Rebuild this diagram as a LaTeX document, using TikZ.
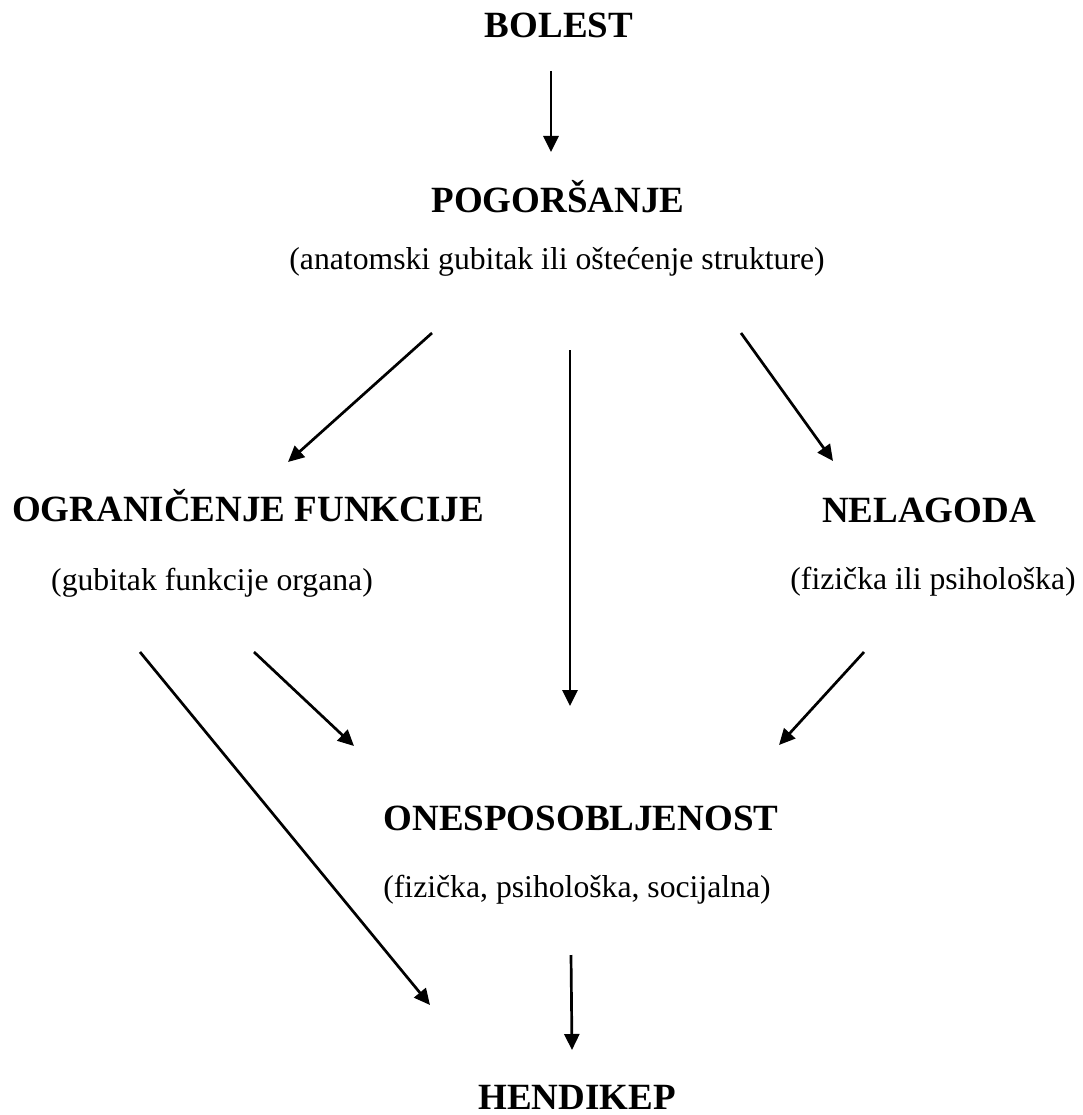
\documentclass[tikz,border=0pt]{standalone}
\usepackage{fontspec}
\setmainfont{Liberation Serif}
\usetikzlibrary{arrows.meta}
\begin{document}
\begin{tikzpicture}[x=1pt,y=-1pt,
  head/.style={font=\fontsize{37}{44}\selectfont\bfseries, inner sep=0pt, anchor=base},
  sub/.style={font=\fontsize{31.7}{38}\selectfont, inner sep=0pt, anchor=base},
  arr/.style={line width=2.7pt, -{Triangle[length=16pt,width=15pt]}}]
\useasboundingbox (0,0) rectangle (1082,1115);
% texts
\node[head] (bolest) at (559,38) {BOLEST};
\node[head] (pogor) at (558,213) {POGORŠANJE};
\node[sub]  (pogorsub) at (557,269) {(anatomski gubitak ili oštećenje strukture)};
\node[head] (ogr) at (248,521) {OGRANIČENJE FUNKCIJE};
\node[sub]  (ogrsub) at (212,590) {(gubitak funkcije organa)};
\node[head] (nel) at (929,522) {NELAGODA};
\node[sub]  (nelsub) at (933,589) {(fizička ili psihološka)};
\node[head] (ones) at (581,830) {ONESPOSOBLJENOST};
\node[sub]  (onessub) at (577,897) {(fizička, psihološka, socijalna)};
\node[head] (hend) at (577,1109) {HENDIKEP};
% arrow end points
\coordinate (b-s) at (551,71);   \coordinate (b-e) at (551,152);
\coordinate (pl-s) at (432,333); \coordinate (pl-e) at (288,462);
\coordinate (pm-s) at (570,350); \coordinate (pm-e) at (570,706);
\coordinate (pr-s) at (741,333); \coordinate (pr-e) at (833,461);
\coordinate (ol-s) at (140,652); \coordinate (ol-e) at (430,1005);
\coordinate (os-s) at (254,652); \coordinate (os-e) at (354,746);
\coordinate (nl-s) at (864,652); \coordinate (nl-e) at (779,745);
\coordinate (on-s) at (571,955); \coordinate (on-e) at (572,1050);
% connectors
\draw[arr] (b-s) -- (b-e);
\draw[arr] (pl-s) -- (pl-e);
\draw[arr] (pm-s) -- (pm-e);
\draw[arr] (pr-s) -- (pr-e);
\draw[arr] (ol-s) -- (ol-e);
\draw[arr] (os-s) -- (os-e);
\draw[arr] (nl-s) -- (nl-e);
\draw[arr] (on-s) -- (on-e);
\end{tikzpicture}
\end{document}
